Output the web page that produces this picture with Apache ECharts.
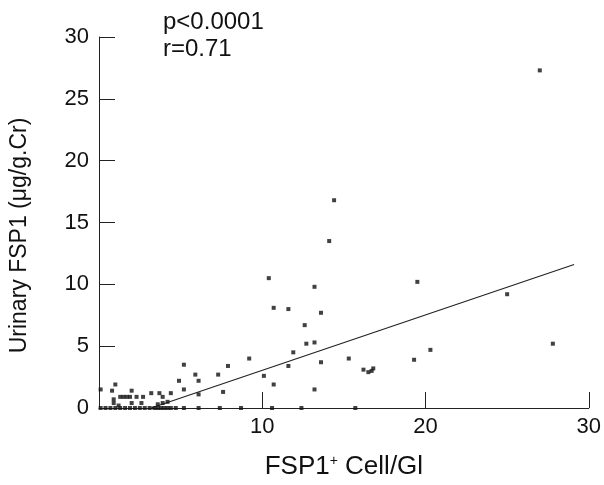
<!DOCTYPE html>
<html>
<head>
<meta charset="utf-8">
<script src="https://cdn.jsdelivr.net/npm/echarts@6/dist/echarts.min.js"></script>
<style>html,body{margin:0;padding:0;background:#fff}#c{width:604px;height:485px}</style>
</head>
<body>
<div id="c"></div>
<script>
// FSP1+ cells per glomerulus vs urinary FSP1
var pointsNonZero = [
  [27.0,27.3],[14.4,16.8],[14.1,13.5],[10.4,10.5],[10.7,8.1],[11.6,8.0],[13.2,9.8],[13.6,7.7],
  [12.6,6.7],[12.7,5.2],[13.2,5.3],[11.9,4.5],[11.6,3.4],[13.6,3.7],[15.3,4.0],[16.2,3.1],
  [16.5,2.9],[16.7,3.0],[16.8,3.2],[10.1,2.6],[10.7,1.9],[13.2,1.5],[19.3,3.9],[20.3,4.7],
  [25.0,9.2],[27.8,5.2],[19.5,10.2],
  [5.2,3.5],[4.9,2.2],[5.2,1.5],[5.9,2.7],[6.1,2.2],[6.1,1.1],[7.3,2.7],[7.9,3.4],[7.6,1.3],[9.2,4.0],
  [0.1,1.5],[1.0,1.9],[0.8,1.4],[0.9,0.7],[2.0,1.4],[1.3,0.9],[1.5,0.9],[1.7,0.9],[1.9,0.9],
  [2.3,0.9],[2.7,0.9],[3.2,1.2],[3.7,1.2],[3.9,0.9],[4.4,1.2],[2.0,0.4],[2.6,0.4],[0.9,0.4],
  [3.6,0.3],[3.9,0.4],[4.2,0.5],[1.2,0.2]
];
var zeroX = [0.1,0.4,0.7,1.0,1.3,1.6,1.9,2.2,2.5,2.8,3.1,3.4,3.6,3.8,4.0,4.2,4.4,4.7,5.2,6.1,7.4,8.7,10.6,12.4,15.7];
var fitLine = [[3.2,0],[29.1,11.6]];
var xTicks = [0,10,20,30];
var yTicks = [0,5,10,15,20,25,30];
var statsText = ['p<0.0001','r=0.71'];

var allPoints = pointsNonZero.concat(zeroX.map(function(x){return [x,0];}));
var font = 'Liberation Sans, Arial, sans-serif';
var chart = echarts.init(document.getElementById('c'));
chart.setOption({
  animation:false,
  backgroundColor:'#fff',
  grid:{left:97,right:14,top:37,bottom:76},
  xAxis:{
    type:'value',min:0,max:30,interval:10,
    axisLine:{lineStyle:{color:'#222',width:1}},
    axisTick:{inside:true,length:16,lineStyle:{color:'#222'}},
    splitLine:{show:false},
    axisLabel:{color:'#111',fontSize:22,fontFamily:font,margin:8,
      formatter:function(v){return v===0?'':String(v);}},
    name:'{a|FSP1}{s|+}{a| Cell/Gl}',nameLocation:'middle',nameGap:46,
    nameTextStyle:{rich:{a:{fontSize:26,fontFamily:font,color:'#111'},
      s:{fontSize:14,fontFamily:font,color:'#111',verticalAlign:'top',padding:[0,0,12,0]}}}
  },
  yAxis:{
    type:'value',min:0,max:30,interval:5,
    axisLine:{lineStyle:{color:'#222',width:1}},
    axisTick:{inside:true,length:16,lineStyle:{color:'#222'}},
    splitLine:{show:false},
    axisLabel:{color:'#111',fontSize:22,fontFamily:font,margin:10},
    name:'Urinary FSP1 (μg/g.Cr)',nameLocation:'middle',nameGap:68,
    nameTextStyle:{fontSize:23,fontFamily:font,color:'#111',padding:[0,0,0,-26]}
  },
  graphic:[{type:'text',left:163,top:9,style:{text:statsText.join('\n'),font:'24px '+font,fill:'#111',lineHeight:27}}],
  series:[
    {type:'scatter',data:allPoints,symbol:'rect',symbolSize:4,itemStyle:{color:'#111'},z:3},
    {type:'line',data:fitLine,symbol:'none',lineStyle:{color:'#222',width:1.2},z:2}
  ]
});
</script>
</body>
</html>
